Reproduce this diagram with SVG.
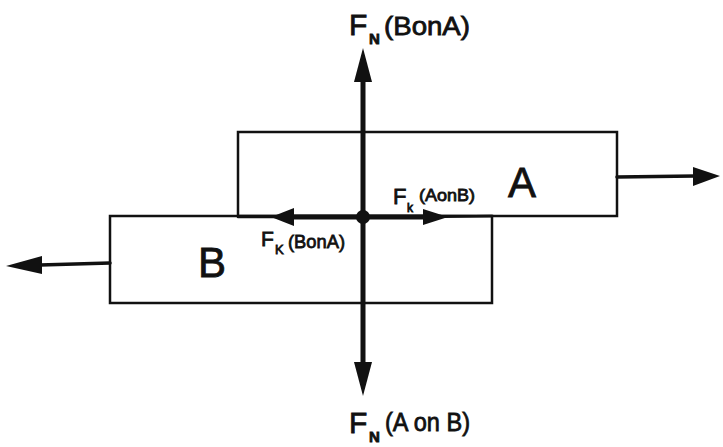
<svg xmlns="http://www.w3.org/2000/svg" width="723" height="447" viewBox="0 0 723 447">
<style>
.box{fill:none;stroke:#111;stroke-width:2.5}
.ln{fill:none;stroke:#111;stroke-linecap:round}
.t{font-family:"Liberation Sans",Arial,sans-serif;fill:#111;stroke:#111;stroke-width:0.8}
</style>
<rect width="723" height="447" fill="#fff"/>
<g id="boxA"><rect class="box" x="238" y="132" width="379" height="84"/><text class="t" x="508" y="197" font-size="42">A</text></g>
<g id="boxB"><rect class="box" x="110" y="216" width="382" height="87"/><text class="t" x="198" y="277" font-size="42">B</text></g>
<g id="connectors">
<line class="ln" x1="363" y1="216" x2="363" y2="82" stroke-width="5"/>
<path d="M363,48 L372,82 L354,82 Z" fill="#111"/>
<line class="ln" x1="363" y1="216" x2="363" y2="362" stroke-width="5"/>
<path d="M363,396 L372,362 L354,362 Z" fill="#111"/>
<line class="ln" x1="363" y1="217" x2="292" y2="217" stroke-width="5"/>
<line class="ln" x1="292" y1="217" x2="238" y2="217" stroke-width="2.5"/>
<path d="M271,217 L294,208 L294,226 Z" fill="#111"/>
<line class="ln" x1="363" y1="217" x2="425" y2="217" stroke-width="5"/>
<line class="ln" x1="425" y1="217" x2="492" y2="216" stroke-width="2.5"/>
<path d="M448,217 L423,209 L423,225 Z" fill="#111"/>
<circle cx="363" cy="217" r="7" fill="#111"/>
<line class="ln" x1="617" y1="177" x2="695" y2="176" stroke-width="3.5"/>
<path d="M720,176 L693,167 L693,186 Z" fill="#111"/>
<line class="ln" x1="110" y1="263" x2="40" y2="265" stroke-width="3.5"/>
<path d="M6,266 L42,256 L42,274 Z" fill="#111"/>
</g>
<g id="labels">
<text class="t" x="349" y="35" font-size="30">F</text><text class="t" x="369" y="44" font-size="15" font-weight="bold">N</text><text class="t" x="384" y="35" font-size="26" textLength="86" lengthAdjust="spacingAndGlyphs">(BonA)</text>
<text class="t" x="349" y="433" font-size="30">F</text><text class="t" x="369" y="442" font-size="15" font-weight="bold">N</text><text class="t" x="385" y="431" font-size="26" textLength="85" lengthAdjust="spacingAndGlyphs">(A on B)</text>
<text class="t" x="393" y="204" font-size="22">F</text><text class="t" x="407" y="212" font-size="12">k</text><text class="t" x="419" y="201" font-size="17" textLength="56" lengthAdjust="spacingAndGlyphs">(AonB)</text>
<text class="t" x="261" y="246" font-size="21">F</text><text class="t" x="275" y="254" font-size="13">K</text><text class="t" x="288" y="248" font-size="19" textLength="57" lengthAdjust="spacingAndGlyphs">(BonA)</text>
</g>
</svg>
